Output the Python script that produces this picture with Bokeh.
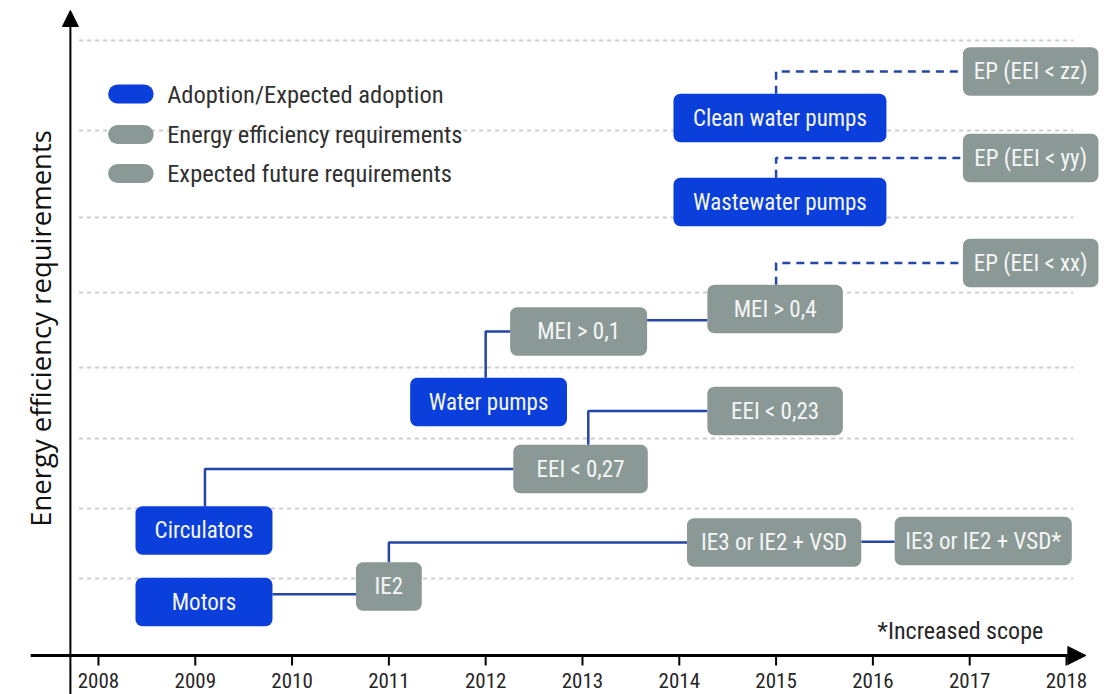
from math import pi

from bokeh.plotting import figure
from bokeh.models import Range1d, ColumnDataSource, Arrow, NormalHead
from bokeh.core.properties import value
from bokeh.embed import file_html
from bokeh.resources import INLINE

# ---- data -------------------------------------------------------------
years = list(range(2008, 2019))
year_labels = [str(y) for y in years]

# requirement levels (measured downwards from the top of the diagram)
grid_levels = [40, 130, 217, 292, 367, 438, 508, 578]

box_labels = ["Motors", "Circulators", "Water pumps", "Wastewater pumps", "Clean water pumps",
              "IE2", "IE3 or IE2 + VSD", "IE3 or IE2 + VSD*", "EEI < 0,27", "EEI < 0,23",
              "MEI > 0,1", "MEI > 0,4", "EP (EEI < xx)", "EP (EEI < yy)", "EP (EEI < zz)"]
box_years = [2009.09, 2009.09, 2012.03, 2015.04, 2015.04,
             2011.0, 2014.98, 2017.14, 2012.98, 2014.99,
             2012.96, 2014.99, 2017.63, 2017.63, 2017.63]
box_levels = [601.5, 530, 401.5, 201.5, 117.5,
              586, 542, 540.5, 468.5, 410.5,
              331, 308.5, 262.5, 157.5, 71]
box_kinds = ["adoption"] * 5 + ["requirement"] * 7 + ["future"] * 3
box_spans = [1.415, 1.415, 1.62, 2.20, 2.20,
             0.68, 1.80, 1.83, 1.39, 1.40,
             1.415, 1.40, 1.40, 1.40, 1.40]

# straight links between neighbouring boxes
link_from = ["Motors", "MEI > 0,1", "IE3 or IE2 + VSD"]
link_to = ["IE2", "MEI > 0,4", "IE3 or IE2 + VSD*"]

# elbow links: up from the source at a given year, then across to the target
elbow_from = ["Circulators", "Water pumps", "EEI < 0,27", "IE2",
              "MEI > 0,4", "Wastewater pumps", "Clean water pumps"]
elbow_to = ["EEI < 0,27", "MEI > 0,1", "EEI < 0,23", "IE3 or IE2 + VSD",
            "EP (EEI < xx)", "EP (EEI < yy)", "EP (EEI < zz)"]
elbow_year = [2009.1, 2012.0, 2013.06, 2011.0, 2015.0, 2015.0, 2015.0]
elbow_expected = [False, False, False, False, True, True, True]

legend_labels = ["Adoption/Expected adoption", "Energy efficiency requirements",
                 "Expected future requirements"]
legend_kinds = ["adoption", "requirement", "future"]
legend_levels = [93.5, 134, 173]

# ---- styles -----------------------------------------------------------
BLUE = "#0b3fdc"
GREY = "#8b9996"
LINK = "#2446a6"
INK = "#262626"
NARROW = value("'Roboto Condensed', 'DejaVu Sans Condensed', sans-serif")
kind_color = {"adoption": BLUE, "requirement": GREY, "future": GREY}
BOX_H = 48.5

p = figure(width=1117, height=694, output_backend="svg", toolbar_location=None,
           x_range=Range1d(2006.988, 2018.527), y_range=Range1d(694, 0),
           min_border=0, outline_line_color=None, background_fill_color="white",
           border_fill_color="white")
p.axis.visible = False
p.grid.visible = False

# dotted level lines
p.multi_line(xs=[[2007.8, 2018.07] for _ in grid_levels],
             ys=[[g, g] for g in grid_levels],
             line_color="#cdcdcd", line_width=2, line_dash="4 4")

# box geometry
idx = {lab: i for i, lab in enumerate(box_labels)}
left = [x - s / 2 for x, s in zip(box_years, box_spans)]
right = [x + s / 2 for x, s in zip(box_years, box_spans)]
top = [y - BOX_H / 2 for y in box_levels]
bottom = [y + BOX_H / 2 for y in box_levels]

# connectors
sx, sy = [], []
for a, b in zip(link_from, link_to):
    i, j = idx[a], idx[b]
    yy = (box_levels[i] + box_levels[j]) / 2
    sx.append([right[i], left[j]])
    sy.append([yy, yy])
p.multi_line(xs=sx, ys=sy, line_color=LINK, line_width=2.5)

ex, ey, dx, dy = [], [], [], []
for a, b, yr, exp in zip(elbow_from, elbow_to, elbow_year, elbow_expected):
    i, j = idx[a], idx[b]
    xs = [yr, yr, left[j]]
    ys = [top[i], box_levels[j], box_levels[j]]
    if exp:
        dx.append(xs); dy.append(ys)
    else:
        ex.append(xs); ey.append(ys)
p.multi_line(xs=ex, ys=ey, line_color=LINK, line_width=2.5)
p.multi_line(xs=dx, ys=dy, line_color=LINK, line_width=2.5, line_dash="8 6")

# boxes
src = ColumnDataSource(dict(left=left, right=right, top=top, bottom=bottom,
                            x=box_years, y=box_levels, label=box_labels,
                            color=[kind_color[k] for k in box_kinds]))
p.quad(left="left", right="right", top="top", bottom="bottom", source=src,
       fill_color="color", line_color=None, border_radius=7)
p.text(x="x", y="y", text="label", source=src, text_color="#f4f6f5",
       text_font=NARROW, text_font_size="23px", text_align="center",
       text_baseline="middle")

# legend
lg_x0, lg_x1, lg_tx = 2008.10, 2008.57, 2008.71
p.quad(left=[lg_x0] * 3, right=[lg_x1] * 3,
       top=[l - 9.5 for l in legend_levels], bottom=[l + 9.5 for l in legend_levels],
       fill_color=[kind_color[k] for k in legend_kinds], line_color=None,
       border_radius=10)
p.text(x=[lg_tx] * 3, y=legend_levels, text=legend_labels, text_color="#303030",
       text_font=NARROW, text_font_size="24.5px", text_align="left",
       text_baseline="middle")

# axes with arrow heads
p.add_layout(Arrow(x_start=2007.30, y_start=655, x_end=2018.20, y_end=655,
                   line_color="black", line_width=3,
                   end=NormalHead(size=18, fill_color="black", line_color="black")))
p.add_layout(Arrow(x_start=2007.71, y_start=694, x_end=2007.71, y_end=10,
                   line_color="black", line_width=2,
                   end=NormalHead(size=16, fill_color="black", line_color="black")))
p.segment(x0=years, y0=[655] * len(years), x1=years, y1=[665] * len(years),
          line_color="black", line_width=2)
p.text(x=years, y=[680] * len(years), text=year_labels, text_color=INK,
       text_font=NARROW, text_font_size="21px", text_align="center",
       text_baseline="middle")

p.text(x=[2017.76], y=[630], text=["*Increased scope"], text_color=INK,
       text_font=NARROW, text_font_size="24px", text_align="right",
       text_baseline="middle")

p.text(x=[2007.40], y=[328], text=["Energy efficiency requirements"], angle=pi / 2,
       text_color="#111111", text_font=value("Open Sans"), text_font_size="27.5px",
       text_align="center", text_baseline="middle")

open("out.html", "w").write(file_html(p, INLINE))
